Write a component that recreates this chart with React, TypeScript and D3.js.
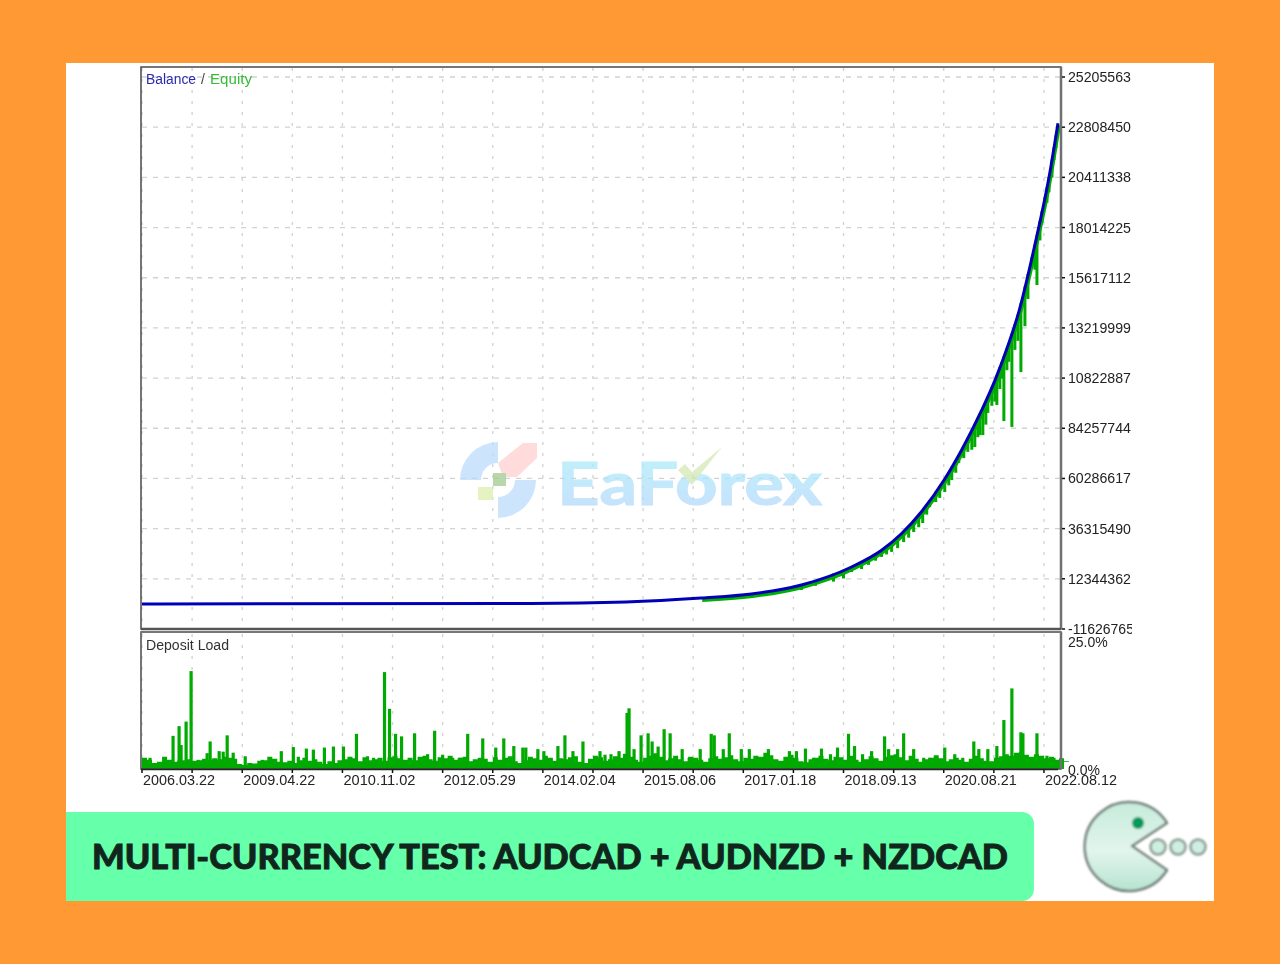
import React from "react";
import * as d3 from "d3";

// ---- data ----
const priceTickLabels = ["25205563","22808450","20411338","18014225","15617112","13219999","10822887","84257744","60286617","36315490","12344362","-116267651"];
const priceTickValues = [252.056,228.085,204.113,180.142,156.171,132.2,108.229,84.258,60.287,36.315,12.344,-11.627];
const dateLabels = ["2006.03.22","2009.04.22","2010.11.02","2012.05.29","2014.02.04","2015.08.06","2017.01.18","2018.09.13","2020.08.21","2022.08.12"];

const balanceIndex = [0,388,483,558,608,658,708,738,758,778,801,818,838,851,865,875,891,905,914];
const balanceValue = [0.31,0.55,1.27,3.18,5.09,9.4,18,26,34,44.5,60,74,93,107,125,140,172,204,230];

const equityIndex = [658,672,690,700,708,718,725,732,738,743,748,754,760,765,770,775,779,783,786,792,796,801,805,808,812,815,820,824,828,831,834,836,839,842,844,848,851,853,856,858,860,863,865,868,871,874,877,881,884,888,891,893,896,898,901,903,905,908,910,912];
const equityValue = [7,9,11,12.5,15.6,17,19,21,22.8,24,25.2,27,29.9,32,34.7,37,39,43,46.6,49,51,53.8,57,59.5,63,67.7,70,73,74,75.3,80,81,81,86,91.6,95,97,95.4,103,108,87.7,112,116,84.9,121.7,126,111.1,133,146,160.8,160,152.7,174,182.3,191.9,192,197,204,212.4,218];

const loadBase = [2.2,1.8,1.2,1.4,2.4,1.8,1.4,1.6,1.7,1.9,1.6,1.7,2,1.8,2.1,1.9,2.4,2.2,2,1,0.8,1.2,1.1,1.6,1.7,2.4,2,1.4,1.3,1.6,1.2,1.7,2.2,1.6,1.9,1.4,1,1.5,1.2,1.7,1.9,2.4,2.1,1.5,2.3,1.7,1.9,2.2,1.6,2.3,2.5,2.1,1.8,2.2,1.7,2.4,2.6,1.9,1.6,2.3,2.1,2.6,1.8,2.2,2.4,1.5,1.9,2.2,2,1.4,2.3,1.8,2.2,2.5,1.5,1.2,1.7,2.4,2.1,1.8,2.6,2.2,1.6,2.1,1.9,2.3,2.5,1.4,1.2,2,2.6,2.3,1.6,1.9,2.5,2.2,3,2.4,1.8,1.4,2.2,2.6,3.1,2.4,1.7,2.1,2.6,1.9,1.5,2.4,2.2,1.8,1.4,2.1,2.5,2,2.3,2.7,1.9,1.5,2.2,2,2.6,2.4,3.2,2.7,1.9,1.6,2.4,2.8,2.2,1.5,1.3,1.9,2.2,2.6,2,1.7,2.4,2.3,1.8,2.6,1.8,1.4,1.9,2.5,2.1,1.6,2.4,2.7,2.9,2.3,1.7,2.6,2,1.4,1.9,2.2,2.7,2.1,1.5,1.9,2.2,1.8,1.4,2,2.6,2.1,1.6,1.5,2.2,2.5,2.9,2.6,3.2,3.4,2.8,2.4,2.9,2.6,2.1,2.4,1.8,2.1,1.5,0.6];
const spikeIndex = [8,31,37,39,44,49,56,61,65,68,77,81,85,91,103,120,139,151,156,164,171,182,191,201,214,225,231,242,247,253,259,272,285,292,300,310,318,325,340,353,361,371,380,383,395,401,415,422,430,440,457,462,468,476,484,486,491,498,505,509,515,521,527,539,546,557,568,571,580,586,598,606,625,646,653,662,670,678,687,694,705,711,719,728,741,745,754,760,770,780,786,801,811,819,830,835,844,853,860,868,877,879,893,903,910];
const spikeLoad = [2.2,6.5,8.4,4.7,9.3,19.2,1.8,1.8,3.1,5.4,3.5,3.4,6.6,3.2,2.5,1.8,3.5,4.3,2.4,4,3.8,4.2,4.4,4.4,6.9,2.5,2.2,19,11.8,6.9,6.4,7,2.9,7.5,2.8,2.2,2.2,6.9,6,4.2,6,4.5,4.2,4.2,3.9,3.5,4.5,6.6,3.5,5.4,3.5,2.8,2.9,3.5,11,11.9,3.9,6.6,7,5.4,4.4,7.8,7,3.9,2.2,3.9,6.9,6.6,3.9,7,3.9,3.9,3.9,3.5,3.5,4,2.2,4,2.9,4.2,6.9,4.5,2.9,3.5,6.4,3.9,3.9,7,3.9,2.2,2.2,4.2,2.9,2.2,5.4,3.9,3.9,4.5,9.6,15.8,7.2,7,7,2.6,2.2];
const gridCount = 19;
const equityBandStart = 3;

// ---- scales ----
const x = d3.scaleLinear().domain([0, 919]).range([142, 1063]);
const yPrice = d3.scaleLinear().domain([-11.627, 252.056]).range([629, 77]);
const yLoad = d3.scaleLinear().domain([0, 25]).range([769, 641.5]);
const balanceAt = d3.scaleLinear().domain(balanceIndex).range(balanceValue);

const balancePath = d3.line<number>()
  .x((_, i) => x(balanceIndex[i]))
  .y((_, i) => yPrice(balanceValue[i]))
  .curve(d3.curveMonotoneX)(balanceIndex) as string;

const equityBandPath = d3.line<number>()
  .x((d) => x(d))
  .y((d) => yPrice(balanceAt(d)))
  .curve(d3.curveMonotoneX)(balanceIndex.slice(equityBandStart)) as string;

const baseStep = 5;
const basePath = d3.area<number>()
  .x((_, i) => x(i * baseStep))
  .y0(yLoad(0))
  .y1((d) => yLoad(d))
  .curve(d3.curveStepAfter)(loadBase) as string;

const wedge = d3.arc();
const ring = (a0: number, a1: number) =>
  wedge({ innerRadius: 17, outerRadius: 38, startAngle: a0, endAngle: a1 }) as string;

const font = "'Liberation Sans', Arial, sans-serif";
const gridColor = "#d2d2d2";

export default function App() {
  const gridXs = d3.range(gridCount).map((i) => x(i * 50));
  return (
    <svg width={1280} height={964} style={{ position: "fixed", left: 0, top: 0 }} fontFamily={font}>
      <defs>
        <filter id="soft" x="-2%" y="-2%" width="104%" height="104%">
          <feGaussianBlur stdDeviation="0.5" />
        </filter>
        <filter id="softer" x="-5%" y="-5%" width="110%" height="110%">
          <feGaussianBlur stdDeviation="0.8" />
        </filter>
        <clipPath id="labelClip"><rect x={1064} y={60} width={68} height={576} /></clipPath>
        <linearGradient id="wm" x1="0" x2="0" y1="0" y2="1">
          <stop offset="0" stopColor="#a8f0fa" />
          <stop offset="1" stopColor="#b6d4fb" />
        </linearGradient>
        <linearGradient id="pac" x1="0" x2="0" y1="0" y2="1">
          <stop offset="0" stopColor="#c6ebdb" />
          <stop offset="0.55" stopColor="#e2f5ed" />
          <stop offset="1" stopColor="#b7e3d0" />
        </linearGradient>
      </defs>

      <rect width={1280} height={964} fill="#FF9933" />
      <rect x={66} y={63} width={1148} height={838} fill="#ffffff" />

      <g filter="url(#soft)">
        {/* grid */}
        {priceTickValues.slice(0, -1).map((v) => (
          <line key={v} x1={142} x2={1060} y1={yPrice(v)} y2={yPrice(v)} stroke={gridColor} strokeWidth={1.3} strokeDasharray="5 6" />
        ))}
        {gridXs.map((gx) => (
          <g key={gx} stroke={gridColor} strokeWidth={1.3} strokeDasharray="3 8">
            <line x1={gx} x2={gx} y1={68} y2={628} />
            <line x1={gx} x2={gx} y1={634} y2={767} />
          </g>
        ))}

        {/* watermark */}
        <g opacity={0.75}>
          <g transform="translate(498,480)">
            <path d={ring(-Math.PI / 2, 0)} fill="#bcdcfb" />
            <path d={ring(Math.PI / 2, Math.PI)} fill="#bcdcfb" />
          </g>
          <polygon points="498,463 523,443 537,443 537,458 517,477 503,477" fill="#ffcfcf" />
          <rect x={493} y={473} width={13} height={13} fill="#a3c98f" />
          <rect x={478} y={487} width={15} height={13} fill="#dcefae" />
          <text x={557} y={505} fontFamily="Lato, sans-serif" fontWeight={700} fontSize={60} fill="url(#wm)" stroke="url(#wm)" strokeWidth={1.2} textLength={265} lengthAdjust="spacingAndGlyphs">EaForex</text>
          <polygon points="678,470 692,485 722,447 692,472 685,464" fill="#d2e6ac" opacity={0.9} />
        </g>

        {/* equity and balance */}
        <path d={equityBandPath} fill="none" stroke="#00b000" strokeWidth={4} transform="translate(1,2)" />
        {equityIndex.map((e, i) => (
          <line key={e} x1={x(e)} x2={x(e)} y1={yPrice(balanceAt(e))} y2={yPrice(equityValue[i])} stroke="#00aa00" strokeWidth={3} />
        ))}
        <path d={balancePath} fill="none" stroke="#0000b4" strokeWidth={3} />

        {/* deposit load */}
        <path d={basePath} fill="#00aa00" />
        {spikeIndex.map((s, i) => (
          <rect key={s} x={x(s) - 1.6} width={3.2} y={yLoad(spikeLoad[i])} height={yLoad(0) - yLoad(spikeLoad[i])} fill="#00aa00" />
        ))}

        {/* frames */}
        <rect x={141} y={67} width={920} height={562} fill="none" stroke="#4a4a4a" strokeWidth={1.5} />
        <line x1={1061} x2={1061} y1={67} y2={629} stroke="#707070" strokeWidth={2.5} />
        <line x1={141} x2={1061} y1={629} y2={629} stroke="#555" strokeWidth={2.5} />
        <rect x={141} y={632} width={920} height={137} fill="none" stroke="#4a4a4a" strokeWidth={1.5} />
        <line x1={1061} x2={1061} y1={632} y2={769} stroke="#707070" strokeWidth={2.5} />
        <line x1={141} x2={1061} y1={632} y2={632} stroke="#777" strokeWidth={2} />
        <line x1={141} x2={1058} y1={769.5} y2={769.5} stroke="#222" strokeWidth={1.5} />

        {/* ticks and price labels */}
        {priceTickValues.map((v) => (
          <line key={v} x1={1062} x2={1065} y1={yPrice(v)} y2={yPrice(v)} stroke="#111" strokeWidth={1.5} />
        ))}
        <g clipPath="url(#labelClip)" fontSize={14} fill="#222">
          {priceTickLabels.map((t, i) => (
            <text key={t} x={1068} y={yPrice(priceTickValues[i]) + 5} textLength={t.length === 8 ? 63 : undefined} lengthAdjust="spacingAndGlyphs">{t}</text>
          ))}
        </g>
        <rect x={1064} y={635} width={70} height={13} fill="#fff" />
        <text x={1068} y={647} fontSize={14} fill="#222">25.0%</text>

        {/* date axis */}
        {gridXs.map((gx) => (
          <line key={gx} x1={gx} x2={gx} y1={770} y2={773} stroke="#111" strokeWidth={1.5} />
        ))}
        {dateLabels.map((t, i) => (
          <text key={t} x={x(i * 100) + 1} y={785} fontSize={14} fill="#222" textLength={72} lengthAdjust="spacingAndGlyphs">{t}</text>
        ))}
        <rect x={1064} y={762} width={44} height={13} fill="#fff" />
        <text x={1068} y={775} fontSize={14} fill="#222">0.0%</text>

        {/* pane titles */}
        <text x={146} y={84} fontSize={14} fill="#2b2bb0" textLength={50} lengthAdjust="spacingAndGlyphs">Balance</text>
        <text x={201} y={84} fontSize={14} fill="#444">/</text>
        <text x={210} y={84} fontSize={14} fill="#35bb35" textLength={42} lengthAdjust="spacingAndGlyphs">Equity</text>
        <text x={146} y={650} fontSize={14} fill="#333" textLength={83} lengthAdjust="spacingAndGlyphs">Deposit Load</text>
      </g>

      {/* banner */}
      <path d="M66,812 H1022 a12,12 0 0 1 12,12 V889 a12,12 0 0 1 -12,12 H66 Z" fill="#66FFAA" />
      <text x={92} y={869} fontFamily="Lato, sans-serif" fontWeight={900} fontSize={35} fill="#10261c" stroke="#10261c" strokeWidth={0.9} textLength={916} lengthAdjust="spacingAndGlyphs">MULTI-CURRENCY TEST: AUDCAD + AUDNZD + NZDCAD</text>

      {/* pacman */}
      <g filter="url(#softer)">
        <path d="M1132,846 L1167,823 A44.5,44.5 0 1 0 1167,870 Z" fill="url(#pac)" stroke="#6f7f78" strokeWidth={2.5} strokeLinejoin="round" />
        <circle cx={1138} cy={823} r={6} fill="#00995c" />
        {[1158, 1178, 1198].map((c) => (
          <circle key={c} cx={c} cy={847} r={7.5} fill="#cdeee0" stroke="#8b9c95" strokeWidth={2.5} />
        ))}
      </g>
    </svg>
  );
}
